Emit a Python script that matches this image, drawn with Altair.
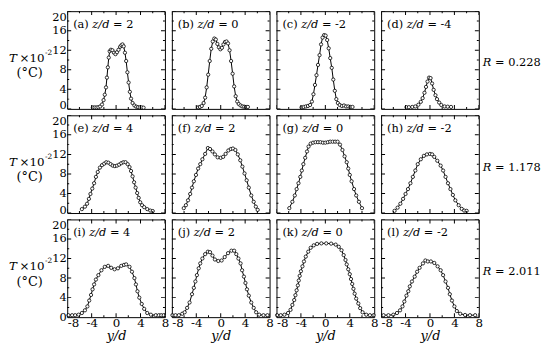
import altair as alt
import pandas as pd

FONT = "DejaVu Serif"
W, H = 99, 99

# ---------------- data (y/d, T x 10^-2) ----------------
y_a = [-3.8, -3.5, -3.2, -2.9, -2.6, -2.3, -2.05, -1.85, -1.65, -1.5, -1.35, -1.2, -1.05, -0.85, -0.6, -0.35,
       -0.1, 0.15, 0.4, 0.65, 0.85, 1.05, 1.25, 1.45, 1.65, 1.85, 2.05, 2.25, 2.45, 2.7, 3.0, 3.3, 3.6, 3.9, 4.2, 4.5]
T_a = [0.3, 0.3, 0.3, 0.35, 0.5, 0.9, 1.8, 2.9, 4.4, 6.4, 8.5, 10.5, 11.8, 12.1, 12.0, 11.5,
       11.2, 11.6, 12.1, 12.7, 13.0, 13.2, 12.8, 11.5, 9.8, 7.5, 5.4, 3.5, 2.1, 1.2, 0.7, 0.45, 0.35, 0.3, 0.3, 0.25]

y_b = [-3.7, -3.4, -3.1, -2.8, -2.55, -2.3, -2.05, -1.8, -1.55, -1.3, -1.05, -0.8, -0.55, -0.3, -0.05, 0.2,
       0.45, 0.7, 0.95, 1.2, 1.45, 1.7, 1.95, 2.2, 2.45, 2.7, 2.95, 3.25, 3.55, 3.85, 4.15, 4.45]
T_b = [0.3, 0.4, 0.6, 1.2, 2.3, 4.4, 7.0, 9.8, 12.3, 13.8, 14.4, 14.2, 13.3, 12.6, 12.2, 12.5,
       13.2, 13.7, 13.8, 13.4, 12.0, 9.8, 7.2, 4.6, 2.6, 1.5, 1.0, 0.7, 0.5, 0.45, 0.4, 0.4]

y_c = [-3.9, -3.55, -3.2, -2.85, -2.5, -2.2, -1.95, -1.7, -1.45, -1.2, -0.95, -0.7, -0.45, -0.2, 0.05, 0.3,
       0.55, 0.8, 1.05, 1.3, 1.55, 1.8, 2.05, 2.35, 2.7, 3.05, 3.4, 3.75, 4.1, 4.45]
T_c = [0.3, 0.4, 0.5, 0.6, 0.8, 1.5, 3.0, 4.9, 6.9, 9.0, 11.0, 13.2, 14.6, 15.1, 15.0, 14.1,
       12.4, 10.4, 8.4, 6.0, 3.7, 2.0, 1.2, 0.8, 0.6, 0.7, 0.5, 0.5, 0.4, 0.4]

y_d = [-3.85, -3.45, -2.9, -2.4, -1.9, -1.5, -1.2, -0.9, -0.65, -0.4, -0.15, 0.1, 0.35, 0.6, 0.9, 1.15,
       1.5, 1.85, 2.4, 2.9, 3.45]
T_d = [0.35, 0.35, 0.4, 0.5, 0.85, 1.45, 2.2, 3.3, 4.5, 5.6, 6.4, 6.3, 5.2, 3.9, 2.8, 2.0,
       1.3, 0.8, 0.5, 0.45, 0.4]

y_e = [-5.6, -5.1, -4.75, -4.45, -4.2, -3.9, -3.6, -3.3, -3.0, -2.65, -2.3, -1.95, -1.6, -1.25, -0.9, -0.55,
       -0.2, 0.15, 0.5, 0.85, 1.2, 1.55, 1.9, 2.2, 2.45, 2.7, 2.95, 3.2, 3.45, 3.7, 3.95, 4.25, 4.6, 5.1, 5.6, 6.0]
T_e = [0.8, 1.3, 1.9, 2.9, 3.9, 5.0, 6.1, 7.4, 8.4, 9.3, 9.8, 10.1, 10.4, 10.3, 10.0, 9.7,
       9.6, 9.7, 9.9, 10.2, 10.4, 10.4, 10.0, 9.4, 8.6, 7.5, 6.3, 5.2, 4.1, 3.1, 2.2, 1.6, 1.2, 0.8, 0.5, 0.4]

y_f = [-6.05, -5.7, -5.35, -5.0, -4.7, -4.4, -4.05, -3.7, -3.35, -3.0, -2.55, -2.1, -1.75, -1.35, -0.95, -0.5,
       0.0, 0.4, 0.8, 1.25, 1.65, 2.0, 2.4, 2.8, 3.2, 3.55, 3.9, 4.25, 4.6, 5.0, 5.4, 5.75, 6.05]
T_f = [1.0, 1.6, 2.6, 3.9, 5.2, 6.5, 7.8, 9.1, 10.0, 11.0, 12.1, 13.3, 13.1, 12.6, 12.0, 11.4,
       11.3, 11.5, 12.1, 12.8, 13.1, 13.2, 12.9, 12.0, 10.8, 9.5, 8.1, 6.7, 5.2, 3.6, 2.3, 1.3, 0.65]

y_g = [-5.9, -5.4, -5.0, -4.7, -4.4, -4.1, -3.85, -3.6, -3.3, -3.0, -2.75, -2.4, -2.0, -1.6, -1.2, -0.8,
       -0.4, 0.0, 0.4, 0.8, 1.2, 1.6, 2.0, 2.4, 2.8, 3.15, 3.5, 3.75, 4.0, 4.3, 4.7, 5.05, 5.5, 6.0]
T_g = [1.0, 2.3, 3.6, 4.9, 6.1, 7.4, 8.7, 10.0, 11.3, 12.6, 13.6, 14.2, 14.4, 14.5, 14.5, 14.5,
       14.4, 14.4, 14.5, 14.6, 14.6, 14.6, 14.6, 14.0, 12.9, 11.6, 10.4, 9.1, 7.8, 6.5, 4.9, 3.6, 2.3, 1.0]

y_h = [-5.8, -5.3, -4.85, -4.4, -4.0, -3.6, -3.2, -2.8, -2.4, -2.0, -1.5, -1.0, -0.5, 0.0, 0.35, 0.7,
       1.2, 1.75, 2.15, 2.55, 2.95, 3.35, 3.75, 4.15, 4.7, 5.2, 5.6, 6.0]
T_h = [0.45, 1.1, 1.9, 2.9, 3.9, 4.9, 6.1, 7.4, 8.7, 10.0, 11.0, 11.7, 12.0, 12.1, 12.0, 11.5,
       10.7, 9.7, 8.7, 7.4, 6.1, 4.9, 3.7, 2.6, 1.6, 0.85, 0.5, 0.45]

y_i = [-7.8, -7.2, -6.7, -6.15, -5.6, -5.1, -4.7, -4.4, -4.1, -3.85, -3.6, -3.3, -2.9, -2.4, -1.85, -1.3,
       -0.8, -0.25, 0.3, 0.85, 1.3, 1.65, 2.2, 2.6, 3.0, 3.25, 3.5, 3.8, 4.2, 4.6, 5.1, 5.7, 6.5, 7.0, 7.4, 7.8]
T_i = [0.4, 0.4, 0.4, 0.5, 0.85, 1.4, 2.2, 3.4, 4.55, 5.7, 6.7, 7.7, 8.6, 9.6, 10.3, 10.5,
       10.1, 9.8, 10.0, 10.5, 10.7, 10.8, 10.3, 9.3, 8.0, 6.7, 5.3, 4.0, 2.7, 1.7, 0.85, 0.5, 0.4, 0.4, 0.4, 0.4]

y_j = [-7.9, -7.4, -6.85, -6.3, -5.9, -5.5, -5.1, -4.7, -4.4, -4.15, -3.9, -3.6, -3.35, -3.0, -2.55, -2.1,
       -1.75, -1.35, -0.95, -0.4, 0.15, 0.65, 1.2, 1.75, 2.2, 2.55, 2.9, 3.25, 3.5, 3.8, 4.05, 4.3, 4.6, 5.0,
       5.4, 5.8, 6.3, 7.0, 7.65]
T_j = [0.4, 0.4, 0.4, 0.7, 1.0, 1.9, 3.0, 4.7, 6.0, 7.3, 8.6, 10.0, 11.0, 12.0, 12.9, 13.4,
       13.3, 12.6, 11.8, 11.5, 11.6, 12.3, 13.1, 13.6, 13.6, 12.9, 12.0, 11.0, 9.6, 8.3, 7.0, 5.7, 4.4, 3.0,
       1.9, 1.0, 0.5, 0.4, 0.4]

y_k = [-7.9, -7.3, -6.7, -6.1, -5.7, -5.4, -5.1, -4.9, -4.7, -4.5, -4.35, -4.2, -4.0, -3.75, -3.5, -3.2,
       -2.8, -2.4, -1.9, -1.35, -0.65, 0.15, 0.95, 1.7, 2.2, 2.65, 3.0, 3.3, 3.5, 3.75, 4.0, 4.2, 4.4, 4.6,
       4.8, 5.05, 5.4, 5.7, 6.1, 6.7, 7.3, 7.9]
T_k = [0.4, 0.4, 0.5, 0.85, 1.5, 2.5, 3.5, 4.5, 5.5, 6.5, 7.5, 8.45, 9.4, 10.4, 11.4, 12.4,
       13.4, 14.2, 14.7, 15.0, 15.1, 15.1, 15.05, 14.85, 14.4, 13.7, 12.7, 11.7, 10.8, 9.8, 8.8, 7.8, 6.8, 5.8,
       4.8, 3.8, 2.8, 1.85, 1.0, 0.5, 0.4, 0.4]

y_l = [-7.6, -6.8, -6.0, -5.4, -4.9, -4.5, -4.2, -3.85, -3.55, -3.3, -2.95, -2.5, -2.1, -1.7, -1.15, -0.75,
       -0.35, 0.15, 0.7, 1.25, 1.75, 2.15, 2.55, 2.95, 3.25, 3.6, 4.0, 4.4, 4.95, 5.75, 6.55, 7.4]
T_l = [0.4, 0.4, 0.5, 0.85, 1.4, 2.2, 3.2, 4.4, 5.3, 6.3, 7.3, 8.3, 9.3, 10.1, 11.0, 11.6,
       11.4, 11.4, 11.1, 10.4, 9.6, 8.6, 7.3, 6.0, 4.7, 3.4, 2.2, 1.25, 0.7, 0.45, 0.4, 0.4]

profiles = [(y_a, T_a), (y_b, T_b), (y_c, T_c), (y_d, T_d),
            (y_e, T_e), (y_f, T_f), (y_g, T_g), (y_h, T_h),
            (y_i, T_i), (y_j, T_j), (y_k, T_k), (y_l, T_l)]

letters = ["a", "b", "c", "d", "e", "f", "g", "h", "i", "j", "k", "l"]
z_labels = ["2", "0", "-2", "-4", "4", "2", "0", "-2", "4", "2", "0", "-2"]
R_labels = ["0.228", "1.178", "2.011"]

y_major = [0, 4, 8, 12, 16, 20]
y_minor = [2, 6, 10, 14, 18]
x_major = [-8, -4, 0, 4, 8]
x_minor = [-6, -2, 2, 6]
x_sides = [-8, 8]
y_sides = [0, 20]

# DejaVu Serif advance widths (per 1000 em)
ADV = {"(": 390, ")": 390, " ": 318, "a": 596, "b": 640, "c": 560, "d": 640, "e": 592,
       "f": 370, "g": 640, "h": 644, "i": 320, "j": 320, "k": 609, "l": 320}


def tw(s, fs):
    return sum(ADV.get(ch, 600) for ch in s) / 1000.0 * fs


xs = alt.Scale(domain=[-8, 8], nice=False, zero=False)
ys = alt.Scale(domain=[0, 20], nice=False, zero=False)


def txt(text, x, y, size, italic=False, align="left"):
    return alt.Chart(pd.DataFrame({"t": [text]})).mark_text(
        align=align, baseline="alphabetic", fontSize=size, font=FONT,
        fontStyle="italic" if italic else "normal", color="black"
    ).encode(x=alt.value(x), y=alt.value(y), text="t:N")


def panel(i):
    row, col = divmod(i, 4)
    yv, Tv = profiles[i]
    df = pd.DataFrame({"y": yv, "T": Tv})

    if row == 2:
        xaxis = alt.Axis(values=x_major, tickSize=0, domain=False, grid=False,
                         labelExpr="'' + datum.value",
                         labelAlign={"condition": {"test": "datum.value == -8", "value": "left"},
                                     "value": "center"},
                         labelFontSize=12, labelFont=FONT, labelPadding=0.5, labelFlush=False,
                         labelOverlap=False, labelColor="black",
                         title="y/d", titleFont=FONT, titleFontSize=13, titleFontStyle="italic",
                         titleFontWeight="normal", titlePadding=1.5, titleColor="black")
    else:
        xaxis = None
    if col == 0:
        if row < 2:
            base = {"condition": [{"test": "datum.value == 20", "value": "top"},
                                  {"test": "datum.value == 0", "value": "alphabetic"}],
                    "value": "middle"}
        else:
            base = {"condition": {"test": "datum.value == 20", "value": "top"}, "value": "middle"}
        yaxis = alt.Axis(values=y_major, tickSize=0, domain=False, grid=False,
                         labelFontSize=11.5, labelFont=FONT, labelPadding=1,
                         labelBaseline=base, labelColor="black", title=None)
    else:
        yaxis = None

    def X():
        return alt.X("y:Q", scale=xs, axis=xaxis)

    def Y():
        return alt.Y("T:Q", scale=ys, axis=yaxis)

    line = alt.Chart(df).mark_line(color="black", strokeWidth=1).encode(x=X(), y=Y())
    pts = alt.Chart(df).mark_point(shape="circle", filled=True, fill="white", fillOpacity=1,
                                   stroke="black", strokeWidth=0.8, size=11, opacity=1).encode(
        x=X(), y=Y())

    def tick_layer(tdf, orient, size):
        return alt.Chart(tdf).mark_tick(orient=orient, size=size, thickness=1, clip=True,
                                        color="black", opacity=1).encode(x=X(), y=Y())

    ymaj = pd.DataFrame({"y": [s for s in x_sides for _ in y_major], "T": y_major * 2})
    ymin = pd.DataFrame({"y": [s for s in x_sides for _ in y_minor], "T": y_minor * 2})
    xmaj = pd.DataFrame({"y": x_major * 2, "T": [s for s in y_sides for _ in x_major]})
    xmin = pd.DataFrame({"y": x_minor * 2, "T": [s for s in y_sides for _ in x_minor]})
    ticks = [tick_layer(ymaj, "horizontal", 8), tick_layer(ymin, "horizontal", 4),
             tick_layer(xmaj, "vertical", 8), tick_layer(xmin, "vertical", 4)]

    fs = 11.5
    lab = "(" + letters[i] + ")"
    x1 = 6
    x2 = x1 + tw(lab + " ", fs)
    x3 = x2 + (1.502 + 0.318) * fs
    texts = [txt(lab, x1, 17, fs), txt("z/d", x2, 17, fs, True), txt("= " + z_labels[i], x3, 17, fs)]

    if col == 0:
        texts += [txt("T", -59, 51, 12, True), txt("×10", -48.3, 51, 12),
                  txt("-2", -22.5, 44.5, 7.5), txt("(°C)", -38, 67, 13, align="center")]
    if col == 3:
        texts += [txt("R", W + 4, 56, 11.5, True), txt("= " + R_labels[row], W + 16.5, 56, 11.5)]

    return alt.layer(line, pts, *ticks, *texts).properties(width=W, height=H)


chart = alt.concat(*[panel(i) for i in range(12)], columns=4,
                   spacing={"row": 6.5, "column": 7}, bounds="flush").properties(
    padding={"left": 0, "top": 0, "right": 0, "bottom": 0}
).configure_view(stroke="black", strokeWidth=1)

chart.save("out.html", embed_options={"renderer": "svg", "actions": False})
